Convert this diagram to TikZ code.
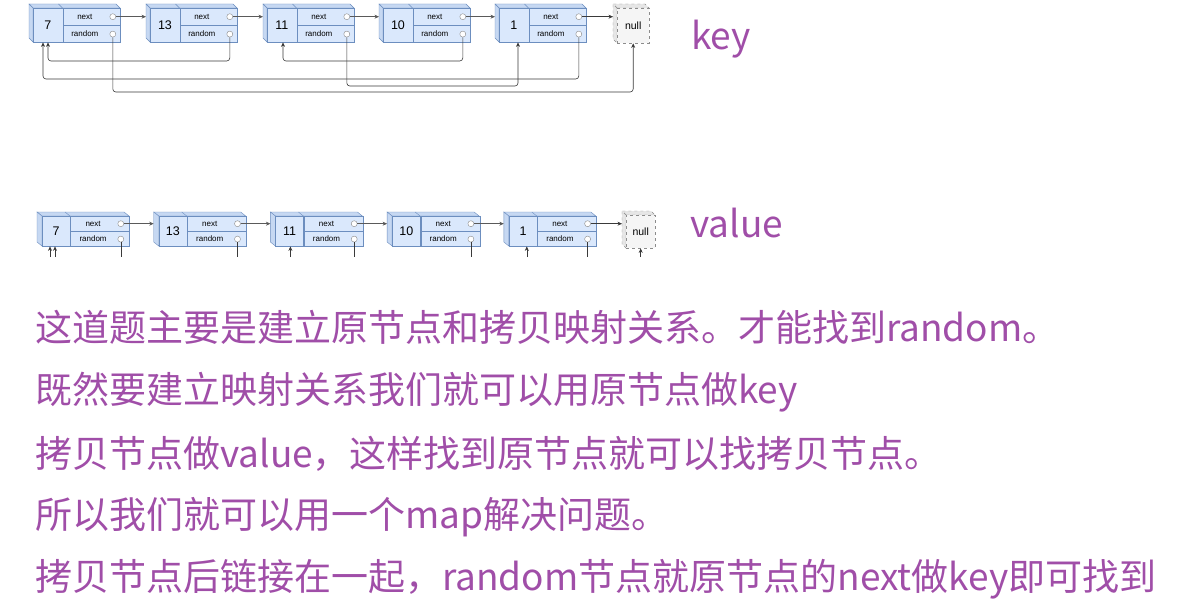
\documentclass[tikz,border=0pt]{standalone}
\usepackage{fontspec}
\newfontfamily\cjk{Noto Sans CJK SC}
\newfontfamily\cellfont{Liberation Sans}
\usetikzlibrary{arrows.meta, positioning, calc}
\definecolor{nodefill}{HTML}{DAE8FC}
\definecolor{nodeside}{HTML}{C6D8F2}
\definecolor{nodeline}{HTML}{6C8EBF}
\definecolor{portline}{HTML}{8A8A8A}
\definecolor{nullfill}{HTML}{F5F5F5}
\definecolor{nullside}{HTML}{E6E6E6}
\definecolor{nullline}{HTML}{8C8C8C}
\definecolor{linkgray}{HTML}{5A5A5A}
\definecolor{linkdark}{HTML}{3A3A3A}
\definecolor{textpurple}{RGB}{160,78,168}

\begin{document}
\begin{tikzpicture}[x=1pt, y=-1pt,
  numcell/.style={draw=nodeline, fill=nodefill, minimum width=29.5pt, minimum height=34pt, inner sep=0pt, anchor=north west, font=\cellfont\fontsize{12.5}{13}\selectfont},
  fieldcell/.style={draw=nodeline, fill=nodefill, minimum width=57.5pt, minimum height=17pt, inner sep=0pt, anchor=north west},
  fieldtext/.style={font=\cellfont\fontsize{8}{9}\selectfont, inner sep=0pt},
  port/.style={circle, draw=portline, fill=white, minimum size=6pt, inner sep=0pt},
  face/.style={fill=nodeside, draw=nodeline},
  nullcell/.style={draw=nullline, dashed, fill=nullfill, minimum width=32pt, minimum height=35pt, inner sep=0pt, anchor=north west, font=\cellfont\fontsize{10.5}{11}\selectfont},
  nullface/.style={fill=nullside, draw=nullline, dashed},
  nextarr/.style={-{Stealth[length=4.5pt,width=4pt]}, draw=linkgray, line width=0.6pt},
  link/.style={-{Stealth[length=4.5pt,width=4pt]}, draw=linkdark, line width=0.6pt, rounded corners=3pt},
  stub/.style={draw=linkdark, line width=0.6pt},
  caption/.style={font=\cjk\fontsize{37}{40}\selectfont, text=textpurple, anchor=base west, inner sep=0pt}
]
\useasboundingbox (0,0) rectangle (1183,602);

% Key list (original nodes)
\foreach \x/\v/\i in {33/7/1, 150/13/2, 267/11/3, 383/10/4, 499/1/5}{
  \fill[face] (\x,8) -- ++(-4,-4) -- ++(87,0) -- ++(4,4) -- cycle;
  \draw[nodeline] (\x+29.5,8) -- ++(-4,-4);
  \fill[face] (\x,8) -- ++(-4,-4) -- ++(0,34) -- ++(4,4) -- cycle;
  \node[numcell] (k\i) at (\x,8) {\v};
  \node[fieldcell] (kn\i) at (k\i.north east) {};
  \node[fieldcell] (kr\i) at (kn\i.south west) {};
  \node[fieldtext] (knt\i) at ($(kn\i.center)+(-7,0)$) {next};
  \node[fieldtext] (krt\i) at ($(kr\i.center)+(-7,0)$) {random};
  \node[port] (knp\i) at ($(kn\i.east)+(-8,0)$) {};
  \node[port] (krp\i) at ($(kr\i.east)+(-8,0)$) {};
}
\fill[nullface] (617,8) -- ++(-4,-4) -- ++(32,0) -- ++(4,4) -- cycle;
\fill[nullface] (617,8) -- ++(-4,-4) -- ++(0,35) -- ++(4,4) -- cycle;
\node[nullcell] (knull) at (617,8) {null};

% next pointers
\foreach \i/\j in {1/2, 2/3, 3/4, 4/5}{
  \draw[nextarr] (knp\i.east) -- ([xshift=-4pt]knp\i.east -| k\j.west);
}
\draw[nextarr, draw=linkdark] (knp5.east) -- ([xshift=-4pt]knp5.east -| knull.west);

% random pointers
\coordinate (e1a) at ($(k1.south west)+(10,0)$);
\coordinate (e1b) at ($(k1.south west)+(15,0)$);
\coordinate (e3) at ($(k3.south west)+(16,0)$);
\coordinate (e5) at ($(k5.south west)+(19,0)$);
\draw[link] (krp2.south) -- (krp2.south |- 0,61) -| (e1b);
\draw[link] (krp4.south) -- (krp4.south |- 0,61) -| (e3);
\draw[link] (krp5.south) -- (krp5.south |- 0,79) -| (e1a);
\draw[link] (krp3.south) -- (krp3.south |- 0,86) -| (e5);
\draw[link] (krp1.south) -- (krp1.south |- 0,92) -| (knull.south);

% Value list (copied nodes)
\foreach \x/\v/\i in {42/7/1, 158.7/13/2, 275.4/11/3, 392.1/10/4, 508.8/1/5}{
  \fill[face] (\x,216) -- ++(-5,-4) -- ++(87,0) -- ++(5,4) -- cycle;
  \draw[nodeline] (\x+28,216) -- ++(-5,-4);
  \fill[face] (\x,216) -- ++(-5,-4) -- ++(0,30) -- ++(5,4) -- cycle;
  \node[numcell, minimum width=28pt, minimum height=30pt] (v\i) at (\x,216) {\v};
  \node[fieldcell, minimum width=59pt, minimum height=15pt] (vn\i) at (v\i.north east) {};
  \node[fieldcell, minimum width=59pt, minimum height=15pt] (vr\i) at (vn\i.south west) {};
  \node[fieldtext] (vnt\i) at ($(vn\i.center)+(-7,0)$) {next};
  \node[fieldtext] (vrt\i) at ($(vr\i.center)+(-7,0)$) {random};
  \node[port] (vnp\i) at ($(vn\i.east)+(-9,0)$) {};
  \node[port] (vrp\i) at ($(vr\i.east)+(-9,0)$) {};
}
\fill[nullface] (626,215) -- ++(-4,-4) -- ++(29,0) -- ++(4,4) -- cycle;
\fill[nullface] (626,215) -- ++(-4,-4) -- ++(0,33) -- ++(4,4) -- cycle;
\node[nullcell, minimum width=29pt, minimum height=33pt] (vnull) at (626,215) {null};

\foreach \i/\j in {1/2, 2/3, 3/4, 4/5}{
  \draw[nextarr] (vnp\i.east) -- ([xshift=-5pt]vnp\i.east -| v\j.west);
}
\draw[nextarr, draw=linkdark] (vnp5.east) -- ([xshift=-4pt]vnp5.east -| vnull.west);

% random stubs (cut off)
\foreach \i in {1,...,5}{
  \draw[stub] (vrp\i.south) -- (vrp\i.south |- 0,257);
}
\coordinate (f1a) at ($(v1.south west)+(8,0)$);
\coordinate (f1b) at ($(v1.south west)+(13,0)$);
\coordinate (f3) at ($(v3.south west)+(15,0)$);
\coordinate (f5) at ($(v5.south west)+(18,0)$);
\foreach \c in {f1a, f1b, f3, f5, vnull.south}{
  \draw[link] (\c |- 0,257) -- (\c);
}

% Labels
\node[caption] (keylbl) at (691,49) {key};
\node[caption] (vallbl) at (690,237) {value};

% Explanation
\node[caption] (t1) at (35,341) {这道题主要是建立原节点和拷贝映射关系。才能找到random。};
\node[caption] (t2) at (35,403) {既然要建立映射关系我们就可以用原节点做key};
\node[caption] (t3) at (35,467) {拷贝节点做value，这样找到原节点就可以找拷贝节点。};
\node[caption] (t4) at (35,528) {所以我们就可以用一个map解决问题。};
\node[caption] (t5) at (35,590) {拷贝节点后链接在一起，random节点就原节点的next做key即可找到};
\end{tikzpicture}
\end{document}
